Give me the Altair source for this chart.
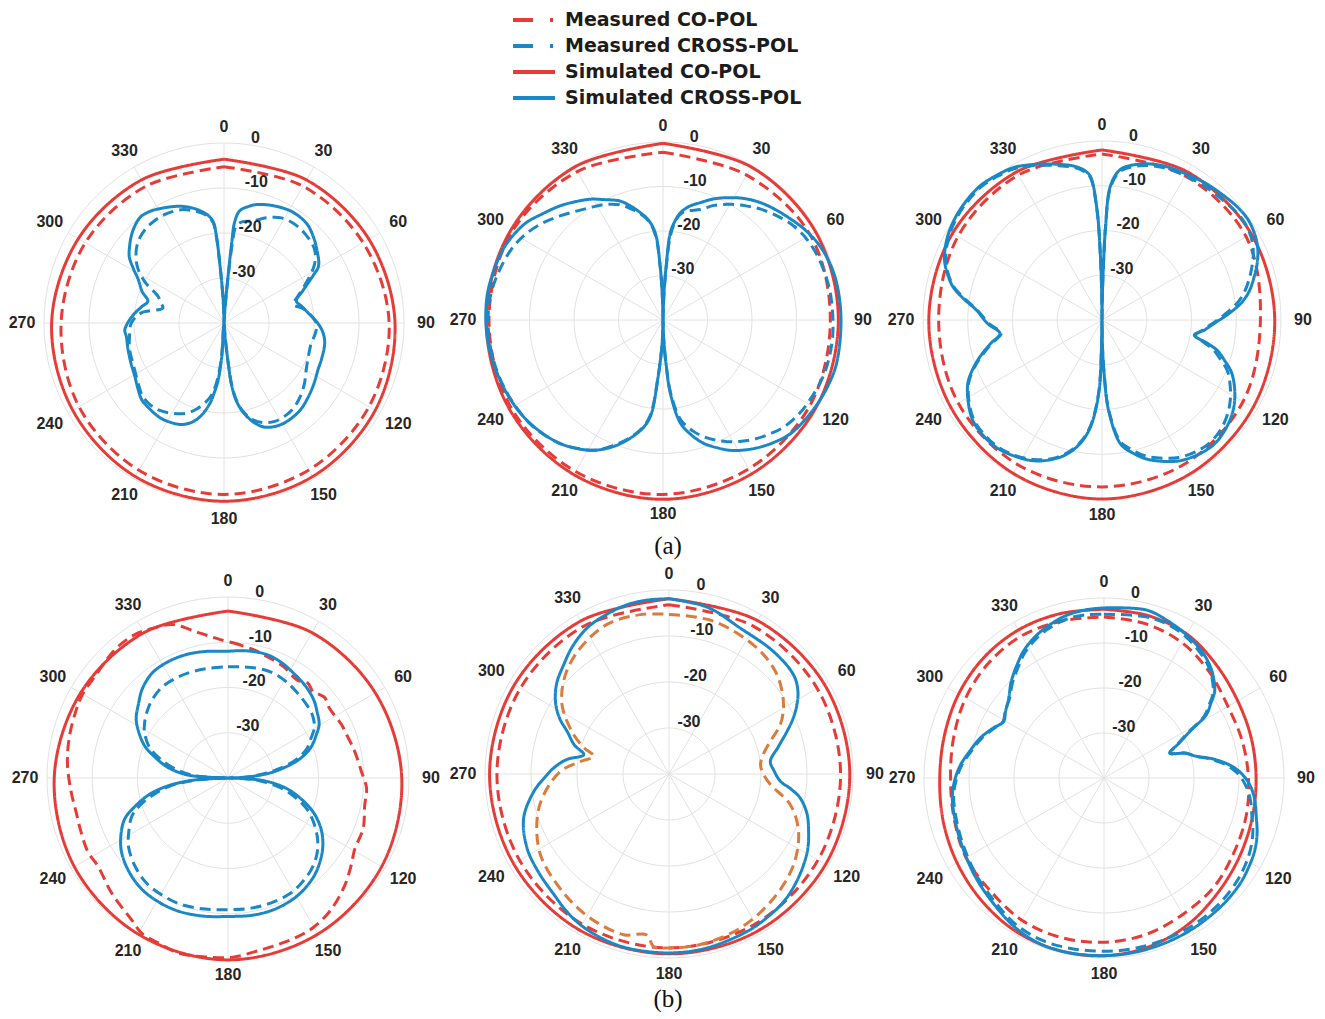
import altair as alt
import pandas as pd

# ---------------- labels / ticks ----------------
SERIES = ["Measured CO-POL", "Measured CROSS-POL", "Simulated CO-POL", "Simulated CROSS-POL"]
ANG30 = list(range(0, 360, 30))
ANG15 = list(range(0, 360, 15))
ANGLE_TICKS = list(range(0, 360, 30))
RADIAL_TICKS = [0, -10, -20, -30]
RING_LEVELS = [-30, -20, -10, 0]
CAPTIONS = ["(a)", "(b)"]

# ---------------- panel 1 ----------------
P1_CO_SIM = [-3.6, -3.3, -2.8, -2.0, -1.2, -0.6, -0.4, -0.6, -1.2, -1.7, -2.6, -3.3]
P1_CO_MEAS = [-5.3, -4.9, -4.3, -3.3, -2.8, -2.3, -1.9, -2.2, -2.8, -3.8, -4.4, -5.0]
P1_X_SIM = [(0, -40), (4, -36), (5, -29), (5.5, -22), (6, -17.5), (8, -14.8), (12, -13.5), (16, -12.6),
            (24, -11.6), (32, -11.0), (40, -11.3), (46, -12.4), (53, -14.0), (59, -15.5), (62, -17.6),
            (68, -21.2), (73, -23.2), (78, -22.3), (83, -21.2), (90, -19.2), (95, -18.0), (101, -17.2),
            (110, -16.9), (116, -16.7), (124, -15.9), (132, -15.0), (140, -14.2), (150, -14.1), (158, -15.0),
            (163, -16.8), (168, -19.8), (171, -22.5), (173, -26), (174, -31), (175.5, -37), (180, -40),
            (184, -32), (186, -27), (188, -24.3), (190, -21.8), (194, -18.7), (198, -16.8), (203, -15.5),
            (210, -14.8), (215, -14.6), (222, -14.8), (227, -15.0), (233, -16.0), (239, -16.9), (247, -17.5),
            (255, -17.9), (262, -18.1), (266, -17.9), (271, -18.8), (276, -20.0), (281, -21.3), (286, -22.4),
            (291, -20.5), (297, -18.6), (301, -16.5), (305, -14.3), (309, -13.0), (313, -11.8), (317, -10.8),
            (322, -10.0), (327, -10.3), (331, -10.9), (336, -11.7), (340, -12.4), (345, -13.6), (348, -14.5),
            (352, -16.0), (354, -17.5), (355, -20.5), (356, -27), (358, -35)]
P1_X_MEAS = [(0, -40), (4, -36), (5, -30), (6, -22), (7, -18.5), (10, -17.2), (16, -16.4), (22, -14.8),
             (28.6, -13.4), (35, -13.0), (42, -13.2), (51, -14.1), (57, -16.0), (64, -19.7), (70, -22.5),
             (75, -24.0), (80, -22.0), (90, -19.5), (97, -19.6), (103, -20.1), (112, -19.8), (119.5, -19.0),
             (126.6, -17.7), (133, -16.6), (139.7, -15.7), (146, -15.3), (152.7, -15.4), (159, -16.3),
             (164, -17.8), (168, -20.0), (171, -22.8), (173, -26.5), (174, -31), (175.5, -37), (180, -40),
             (184, -33), (186, -28.5), (188, -25.5), (191, -23), (197, -20.2), (203, -18.2), (210.3, -16.8),
             (217, -15.8), (223.5, -15.5), (229, -15.8), (235, -16.7), (245, -17.8), (254, -18.2), (262, -18.8),
             (270, -19.4), (277, -21.5), (283.8, -26.0), (288, -25.2), (292, -24.2), (297, -20.5), (302, -17.5),
             (307, -15.5), (313, -13.8), (320, -12.8), (327, -12.5), (333, -12.6), (339.4, -13.1), (345, -14.2),
             (349, -15.2), (352, -16.3), (354, -17.8), (355, -21), (356, -27), (358, -35)]

# ---------------- panel 2 ----------------
P2_CO_SIM = [-0.3, -0.3, -0.4, -0.6, -0.4, -0.1, 0.3, 0.1, -0.1, -0.3, -0.3, -0.3]
P2_CO_MEAS = [-2.3, -2.4, -1.8, -2.4, -1.8, -1.4, -0.8, -0.7, -0.6, -0.9, -0.7, -1.5]
P2_X_SIM = [(0, -40), (2, -34), (3.5, -27), (4.8, -20.3), (7, -17.5), (9.2, -15.6), (13, -13.8), (17.7, -12.3),
            (23, -10.4), (28.9, -8.6), (34, -7.1), (39.8, -5.7), (46, -4.5), (51.8, -3.4), (57, -2.3),
            (63.4, -1.2), (70, -0.5), (78, -0.1), (90, 0.0), (104, 0.2), (112, -0.1), (118.3, -0.5), (125, -1.0),
            (131.6, -1.6), (137, -2.7), (142.4, -4.0), (147.5, -5.4), (152.6, -7.0), (157, -8.8), (161.7, -10.8),
            (166, -13.3), (170.4, -16.5), (174.3, -23.5), (176, -30), (178, -36), (180, -40), (182, -35),
            (185, -27), (187.5, -18.1), (191, -15), (196.7, -11.8), (202, -9.2), (208.1, -6.8), (214, -5.2),
            (219.9, -3.85), (227, -2.8), (233.8, -2.0), (240, -1.5), (247.4, -1.1), (257, -0.6), (266.9, -0.25),
            (277.7, -0.1), (286, -0.4), (293.8, -0.7), (300, -1.4), (305.5, -2.3), (311, -3.8), (317.9, -5.45),
            (323, -6.8), (328.9, -8.3), (334, -9.9), (340.2, -11.6), (344, -13.3), (348, -15.3), (352, -17.5),
            (355, -20.5), (357, -28), (358.5, -35)]
P2_X_MEAS = [(0, -40), (2, -35), (3.5, -28), (5, -21), (7, -17.8), (9.5, -15.8), (13, -14.8), (18.7, -13.8),
             (24, -11.8), (30.3, -9.9), (36, -8.3), (41.4, -6.8), (48, -5.2), (54.4, -3.8), (61, -2.9),
             (67.5, -2.4), (75, -2.1), (82, -1.9), (95.5, -1.7), (108.3, -1.8), (120, -2.5), (126, -3.0),
             (131.4, -3.7), (136, -4.7), (141.5, -6.0), (147, -7.5), (152.2, -9.1), (156.5, -10.6), (160.7, -12.2),
             (165, -14.2), (170, -17.3), (174, -23.5), (176, -30), (178, -36), (180, -40), (182, -35), (185, -27),
             (187.5, -18.5), (191, -15.2), (196.7, -12.0), (202, -9.5), (207, -7.2), (213, -5.5), (218.6, -4.1),
             (225, -3.0), (232, -2.1), (240, -1.6), (247, -1.2), (255, -0.9), (262.4, -0.7), (270, -0.7),
             (277, -0.8), (285, -1.4), (295, -2.4), (302, -3.6), (309, -5.3), (315.3, -7.1), (321, -8.6),
             (327, -9.9), (333, -10.9), (340, -12.5), (344, -14), (348, -15.6), (352, -17.7), (355, -21),
             (357, -28), (358.5, -35)]

# ---------------- panel 3 ----------------
P3_CO_SIM = [-2.0, -1.8, -1.5, -1.4, -1.0, -0.4, 0.0, -0.4, -1.0, -1.3, -1.4, -1.8]
P3_CO_MEAS = [-2.9, -2.8, -2.8, -4.6, -3.6, -2.9, -2.7, -2.6, -2.9, -3.5, -2.8, -2.6]
P3_X_SIM = [(0, -40), (1, -33), (1.6, -26.5), (2.2, -19), (3.6, -10), (7, -6.1), (13.9, -4.1), (21.9, -2.9),
            (31.6, -2.2), (38, -1.6), (44.6, -1.1), (50, -0.6), (55.4, -0.4), (61, -0.9), (65.7, -1.8),
            (70, -3.1), (74, -4.6), (79, -6.5), (83.1, -8.7), (87.5, -11.9), (91.7, -14.9), (95.6, -17.0),
            (99.3, -19.1), (102.5, -15.8), (105, -13.2), (108.2, -11.2), (112, -8.8), (116.9, -6.8), (122, -5.1),
            (127, -3.9), (132, -3.1), (137.8, -2.6), (144, -3.0), (150.8, -4.0), (156, -5.4), (162, -7.3),
            (167, -9.5), (171.5, -12.0), (175.8, -19.7), (177.6, -27.3), (179, -34), (180, -40), (181, -34),
            (182.6, -23.5), (186.2, -15.9), (190, -12), (194.7, -9.0), (200, -6.8), (206, -5.0), (213, -3.8),
            (219.7, -3.0), (226, -3.0), (232, -3.4), (238, -4.8), (244.6, -6.8), (249, -9.0), (253.2, -11.5),
            (258, -14.5), (262.5, -17.0), (268, -14.5), (274.6, -11.8), (279, -8.5), (282.7, -5.8), (287, -3.8),
            (291, -2.3), (297, -1.0), (303.1, -0.2), (310, 0.3), (317.6, 0.5), (324, 0.0), (329.8, -0.6),
            (334, -1.5), (338.3, -2.5), (344, -3.8), (349.5, -5.0), (353, -6.2), (355.3, -7.7), (357.4, -15.3),
            (358.5, -25), (359.3, -33)]
P3_X_MEAS = [(0, -40), (1, -33), (1.6, -26.5), (2.2, -19), (3.6, -10.5), (7, -6.5), (13.9, -4.5), (21.9, -3.3),
             (31.6, -2.7), (38, -2.3), (44.6, -2.0), (50, -1.6), (55.4, -1.4), (61, -1.9), (65.7, -2.9),
             (70, -4.3), (74, -5.7), (79, -7.6), (83.1, -9.7), (87.5, -12.6), (91.7, -15.2), (95.6, -17.4),
             (99.3, -18.8), (102.5, -16.6), (105, -14.2), (108.2, -12.2), (112, -9.8), (116.9, -7.9), (122, -6.2),
             (127, -4.9), (132, -4.0), (137.8, -3.5), (144, -3.8), (150.8, -4.8), (156, -6.2), (162, -8.0),
             (167, -10.2), (171.5, -12.6), (175.8, -20), (177.6, -27.5), (179, -34), (180, -40), (181, -34),
             (182.6, -23.8), (186.2, -16.2), (190, -12.3), (194.7, -9.3), (200, -7.0), (206, -5.3), (213, -4.0),
             (219.7, -3.3), (226, -3.3), (232, -3.7), (238, -5.0), (244.6, -7.0), (249, -9.2), (253.2, -11.8),
             (258, -14.8), (262.5, -17.3), (268, -14.8), (274.6, -12.0), (279, -8.8), (282.7, -6.0), (287, -4.0),
             (291, -2.6), (297, -1.3), (303.1, -0.5), (310, 0.0), (317.6, 0.2), (324, -0.3), (329.8, -0.9),
             (334, -1.8), (338.3, -2.8), (344, -4.1), (349.5, -5.3), (353, -6.5), (355.3, -8.0), (357.4, -15.5),
             (358.5, -25), (359.3, -33)]

# ---------------- panel 4 ----------------
P4_CO_SIM = [-3.1, -2.9, -2.4, -1.6, -0.8, -0.2, 0.2, -0.2, -0.8, -1.6, -2.4, -2.9]
P4_CO_MEAS = [(2.1, -10.1), (11.2, -11.1), (17.7, -11.8), (26.6, -12.5), (35.3, -13.5), (40, -12.6),
              (44.4, -13.2), (50, -12.2), (55.5, -12.8), (64.5, -12.3), (71.3, -12.0), (78, -11.4),
              (87.1, -10.5), (94.2, -9.3), (101.2, -9.2), (110.6, -8.1), (119.2, -7.9), (125.5, -6.6),
              (132.8, -4.9), (142, -3.05), (149.9, -2.0), (156.4, -1.7), (162.4, -1.6), (169.4, -1.3),
              (178.4, -0.4), (187, -0.15), (195.6, 0.2), (202.7, -0.4), (209, -0.75), (214.2, -2.1),
              (225.4, -3.85), (236, -5.3), (242, -5.0), (249.8, -5.4), (257.5, -5.6), (265, -5.2), (274.8, -4.4),
              (284.3, -3.8), (294, -3.25), (300.2, -2.9), (307.2, -3.0), (318.6, -2.2), (327, -2.2),
              (334.2, -3.1), (340, -3.9), (348.8, -7.3), (356.5, -9.3)]
P4_X_SIM = [(0, -12.0), (8, -11.6), (17.5, -11.4), (25, -11.9), (32.2, -12.7), (40, -13.4), (47.9, -14.4),
            (53, -15.4), (59.4, -16.6), (64, -18.3), (69.8, -20.5), (75, -23.5), (79.7, -27.5), (83, -30.5),
            (86, -34.4), (88, -37), (90, -40), (92, -36), (95, -31.4), (100, -27), (105.6, -23.4), (112, -19.6),
            (118.6, -16.6), (125, -14.4), (131.1, -12.8), (138, -11.3), (145.7, -10.2), (152, -9.6),
            (160.9, -9.2), (170, -9.2), (180, -9.4), (190, -9.0), (200.2, -8.6), (209, -8.6), (217.7, -8.9),
            (226, -9.8), (235, -11.3), (242, -13.2), (248.5, -15.5), (253, -18.5), (257.9, -22), (262, -26),
            (265.4, -30.6), (267.5, -35), (270, -40), (272.5, -35), (274.6, -30.7), (280, -26.5),
            (285.6, -23.4), (291, -20.3), (297.8, -17.6), (303, -15.8), (309.7, -14.3), (316, -12.7),
            (324, -11.4), (332, -11.1), (341.1, -11.2), (350, -11.6)]
P4_X_MEAS = [(0, -15.4), (8, -15.2), (17.5, -14.8), (25, -14.8), (32.2, -15.2), (40, -15.8), (47.9, -16.3),
             (53, -16.7), (59.4, -17.8), (64, -19.5), (69.8, -21.5), (75, -24.5), (79.7, -28.5), (83, -31.5),
             (86, -35), (88, -37.5), (90, -40), (92, -37), (95, -33), (100, -28.5), (105.6, -24.8), (112, -21),
             (118.6, -18.2), (125, -15.8), (131.1, -14.0), (138, -12.6), (145.7, -11.6), (152, -11.0),
             (160.9, -10.8), (170, -10.8), (180, -10.9), (190, -10.6), (200.2, -10.2), (209, -10.3),
             (217.7, -10.6), (226, -11.6), (235, -13.2), (242, -15.2), (248.5, -17.2), (253, -19.8),
             (257.9, -23.5), (262, -27), (265.4, -31.5), (267.5, -35.5), (270, -40), (272.5, -36), (274.6, -32),
             (280, -28), (285.6, -24.5), (291, -21.5), (297.8, -19.2), (303, -18.0), (309.7, -16.8), (316, -15.9),
             (324, -15.2), (332, -15.1), (341.1, -15.2), (350, -15.4)]

# ---------------- panel 5 ----------------
P5_CO_SIM = [-1.9, -1.5, -1.0, -0.7, -0.7, -0.8, -0.9, -0.9, -1.0, -1.0, -1.2, -1.6]
P5_CO_MEAS = [-3.2, -3.0, -2.8, -2.7, -2.6, -2.4, -2.2, -2.3, -2.5, -2.6, -2.7, -2.9]
P5_X_SIM = [(0, -1.9), (13, -2.8), (26, -4.7), (40.5, -5.0), (51.5, -5.4), (57, -6.6), (61.6, -8.4), (66, -10.5),
            (70.1, -12.7), (76, -15.5), (82.9, -17.8), (88, -17.2), (93.8, -15.7), (97, -13.3), (100.4, -11.0),
            (106, -8.8), (112.3, -7.2), (118, -5.8), (124, -4.7), (131, -3.6), (138, -2.7), (146, -2.2),
            (153.6, -1.8), (167.7, -1.3), (180, -1.1), (193.6, -1.1), (202, -1.4), (210.5, -2.0), (217, -2.8),
            (223, -3.7), (233, -4.5), (242.5, -5.2), (253.2, -7.0), (262.7, -10.4), (268, -12.8), (273, -14.9),
            (278, -17.5), (282.8, -21.0), (287, -18.5), (292.7, -16.0), (297, -13.3), (302.6, -10.7),
            (309, -8.6), (316.1, -7.0), (323, -5.2), (330.7, -3.6), (338, -2.8), (346, -2.1), (353, -1.9)]
P5_X_MEAS = [(0, -5.3), (16.3, -5.4), (34.9, -6.6), (47.4, -8.1), (58.8, -10.9), (66, -13.5), (72, -16.8),
             (78, -19.0), (84.2, -20.0), (90, -19.5), (96, -17.8), (104.2, -12.8), (113.9, -9.2), (126, -6.5),
             (139.8, -4.7), (155.1, -3.1), (169.6, -2.3), (180, -2.2), (185, -2.3), (188, -4.7), (195.8, -3.7),
             (208.6, -4.3), (222, -5.5), (237.9, -7.0), (251.6, -9.8), (260.6, -12.4), (271.4, -16.4),
             (278, -20.5), (283.2, -23.2), (287, -20.8), (292.4, -17.6), (302.9, -12.3), (313.8, -8.8),
             (324.9, -6.5), (337.5, -4.8), (349.8, -4.8)]

# ---------------- panel 6 ----------------
P6_CO_SIM = [-2.5, -2.6, -3.1, -4.6, -5.7, -6.1, -6.2, -5.9, -5.2, -4.1, -2.5, -1.2,
             -0.5, -0.4, -0.7, -1.5, -2.3, -3.0, -3.5, -3.3, -2.7, -2.2, -2.0, -2.2]
P6_CO_MEAS = [-4.2, -4.5, -5.3, -6.8, -8.2, -8.2, -7.9, -7.3, -6.7, -5.6, -5.0, -4.0,
              -3.5, -3.3, -3.5, -4.4, -4.6, -5.5, -5.9, -5.4, -4.5, -3.8, -3.5, -3.9]
P6_X_SIM = [(0, -2.2), (14.2, -1.5), (22, -2.3), (30, -3.3), (37, -4.3), (43, -5.6), (47.5, -7.0), (52, -8.8),
            (55, -11.0), (58.3, -13.3), (61.5, -18.3), (65, -21.5), (69.3, -24.4), (73, -21.2), (76.8, -18.9),
            (80, -15.5), (84, -12.0), (88, -9.5), (92.6, -7.6), (98, -6.2), (104.7, -5.0), (110, -3.8),
            (115.9, -2.8), (122, -2.2), (128, -1.7), (137, -1.4), (146.8, -1.2), (155, -1.0), (163.8, -0.8),
            (173, -0.6), (182.4, -0.5), (192, -0.4), (201, -0.5), (211, -1.4), (221.1, -2.8), (232, -3.9),
            (242.5, -4.9), (252, -5.5), (262.5, -6.0), (269, -6.8), (275.3, -8.0), (281, -9.5), (287.9, -11.1),
            (294, -12.9), (299.4, -14.4), (304, -13.6), (309.9, -12.4), (316, -10.3), (322.4, -8.3), (328, -6.5),
            (334.8, -4.9), (341, -3.8), (347.1, -2.9), (354, -2.4)]
P6_X_MEAS = [(0, -3.6), (14.2, -3.0), (22, -3.0), (30, -3.7), (37, -4.8), (43, -6.0), (47.5, -7.4), (52, -9.2),
             (55, -11.4), (58.3, -13.8), (61.5, -18.6), (65, -21.8), (69.3, -24.2), (73, -21.0), (76.8, -18.9),
             (80, -15.9), (84, -12.6), (88, -10.3), (92.6, -8.6), (98, -7.2), (104.7, -6.0), (110, -4.8),
             (115.9, -3.8), (122, -3.1), (128, -2.6), (137, -2.1), (146.8, -1.8), (155, -1.7), (163.8, -1.6),
             (173, -1.5), (182.4, -1.5), (192, -1.4), (201, -1.4), (211, -2.0), (221.1, -3.3), (232, -4.3),
             (242.5, -5.2), (252, -5.8), (262.5, -6.3), (269, -7.1), (275.3, -8.3), (281, -9.8), (287.9, -11.4),
             (294, -13.1), (299.4, -14.3), (304, -13.5), (309.9, -12.6), (316, -10.7), (322.4, -8.8), (328, -7.0),
             (334.8, -5.4), (341, -4.4), (347.1, -3.7), (354, -3.5)]

# ---------------- styling / layout constants ----------------
RED = "#e63b36"
BLUE = "#1a87c6"
ORANGE = "#dc7b3c"
GRID = "#e2e2e2"
TXT = "#262626"
DASH = [11, 6]
LEGEND_DASH = [20, 17, 3, 60]
PANEL_CX = [224, 663, 1102, 228, 669, 1104]
PANEL_CY = [323, 320, 320, 778, 774, 778]
PANEL_R = [180, 178, 179, 181, 184, 180]
CAPTION_XY = [(668, 546), (668, 999)]
LEG_X0, LEG_X1, LEG_TX = 513, 555, 565
LEG_Y0, LEG_DY = 20, 26
W, H = 1309, 1003

# ---------------- assemble tables ----------------
def unzip(pairs):
    return [p[0] for p in pairs], [p[1] for p in pairs]

panels = [
    ((ANG30, P1_CO_SIM), (ANG30, P1_CO_MEAS), unzip(P1_X_SIM), unzip(P1_X_MEAS)),
    ((ANG30, P2_CO_SIM), (ANG30, P2_CO_MEAS), unzip(P2_X_SIM), unzip(P2_X_MEAS)),
    ((ANG30, P3_CO_SIM), (ANG30, P3_CO_MEAS), unzip(P3_X_SIM), unzip(P3_X_MEAS)),
    ((ANG30, P4_CO_SIM), unzip(P4_CO_MEAS), unzip(P4_X_SIM), unzip(P4_X_MEAS)),
    ((ANG30, P5_CO_SIM), (ANG30, P5_CO_MEAS), unzip(P5_X_SIM), unzip(P5_X_MEAS)),
    ((ANG15, P6_CO_SIM), (ANG15, P6_CO_MEAS), unzip(P6_X_SIM), unzip(P6_X_MEAS)),
]

rows = []
for p, (co_sim, co_meas, x_sim, x_meas) in enumerate(panels):
    for series, (angs, vals) in [(SERIES[2], co_sim), (SERIES[0], co_meas),
                                  (SERIES[3], x_sim), (SERIES[1], x_meas)]:
        variant = "orange" if (p == 4 and series == SERIES[1]) else "std"
        pts = list(zip(angs, vals)) + [(angs[0] + 360, vals[0])]
        for a, v in pts:
            rows.append(dict(panel=p, series=series, angle=a, db=v, key=f"{p}|{series}", variant=variant))
curves_df = pd.DataFrame(rows)

ring_rows = []
for p in range(6):
    for lvl in RING_LEVELS:
        for a in range(0, 361, 3):
            ring_rows.append(dict(panel=p, db=lvl, angle=a, key=f"{p}|{lvl}"))
rings_df = pd.DataFrame(ring_rows)

spokes_df = pd.DataFrame([dict(panel=p, angle=a) for p in range(6) for a in ANGLE_TICKS])
alabels_df = pd.DataFrame([dict(panel=p, angle=a, label=str(a)) for p in range(6) for a in ANGLE_TICKS])
rlabels_df = pd.DataFrame([dict(panel=p, db=t, label=str(t)) for p in range(6) for t in RADIAL_TICKS])
legend_df = pd.DataFrame([dict(series=s, i=i, measured=s.startswith("Measured")) for i, s in enumerate(SERIES)])

# ---------------- geometry helpers ----------------
def arr(v):
    return "[" + ",".join(str(x) for x in v) + "][datum.panel]"

def polar(chart, r_expr, angle_expr="datum.angle"):
    return chart.transform_calculate(
        cx=arr(PANEL_CX), cy=arr(PANEL_CY), R=arr(PANEL_R)
    ).transform_calculate(
        th=f"({angle_expr})*PI/180"
    ).transform_calculate(
        rr=r_expr
    ).transform_calculate(
        x="datum.cx + datum.rr*sin(datum.th)",
        y="datum.cy - datum.rr*cos(datum.th)",
    )

XS = alt.Scale(domain=[8, 8 + W], nice=False, zero=False)
YS = alt.Scale(domain=[8, 8 + H], nice=False, zero=False, reverse=True)
X = alt.X("x:Q", scale=XS, axis=None)
Y = alt.Y("y:Q", scale=YS, axis=None)
R_DB = "datum.R*max(0, datum.db + 40)/40"
COLOR = alt.Color("series:N", scale=alt.Scale(domain=SERIES, range=[RED, BLUE, RED, BLUE]), legend=None)

rings = polar(alt.Chart(rings_df), R_DB).mark_line(stroke=GRID, strokeWidth=1).encode(
    x=X, y=Y, order="angle:Q", detail="key:N")

spokes = alt.Chart(spokes_df).transform_calculate(
    cx=arr(PANEL_CX), cy=arr(PANEL_CY), R=arr(PANEL_R)
).transform_calculate(
    th="datum.angle*PI/180"
).transform_calculate(
    x="datum.cx", y="datum.cy",
    x2="datum.cx + datum.R*sin(datum.th)", y2="datum.cy - datum.R*cos(datum.th)"
).mark_rule(stroke=GRID, strokeWidth=1).encode(x=X, y=Y, x2="x2:Q", y2="y2:Q")

alabels = polar(alt.Chart(alabels_df), "datum.R + 16 + 6*abs(sin(datum.th))").mark_text(
    font="Liberation Sans", fontSize=16, fontWeight="bold", color=TXT, align="center", baseline="middle"
).encode(x=X, y=Y, text="label:N")

rlabels = polar(alt.Chart(rlabels_df), "datum.R*(datum.db + 40)/40 + 7", angle_expr="8").mark_text(
    font="Liberation Sans", fontSize=16, fontWeight="bold", color=TXT, align="left", baseline="middle", dx=1
).encode(x=X, y=Y, text="label:N")

curves = polar(alt.Chart(curves_df).transform_filter("datum.variant == 'std'"), R_DB).mark_line(
    strokeWidth=3, interpolate="catmull-rom"
).encode(
    x=X, y=Y, order="angle:Q", detail="key:N", color=COLOR,
    strokeDash=alt.StrokeDash("series:N", scale=alt.Scale(domain=SERIES, range=[DASH, DASH, [1, 0], [1, 0]]),
                              legend=None),
)

orange = polar(alt.Chart(curves_df).transform_filter("datum.variant == 'orange'"), R_DB).mark_line(
    strokeWidth=3, interpolate="catmull-rom", stroke=ORANGE, strokeDash=DASH
).encode(x=X, y=Y, order="angle:Q", detail="key:N")

# ---------------- legend (built from the series list) ----------------
leg_base = alt.Chart(legend_df).transform_calculate(y=f"{LEG_Y0} + datum.i*{LEG_DY}")
leg_meas = leg_base.transform_filter("datum.measured").mark_rule(
    strokeWidth=4, strokeDash=LEGEND_DASH
).encode(x=alt.datum(LEG_X0, scale=XS), x2=alt.datum(LEG_X1), y=Y, color=COLOR)
leg_sim = leg_base.transform_filter("!datum.measured").mark_rule(strokeWidth=4).encode(
    x=alt.datum(LEG_X0, scale=XS), x2=alt.datum(LEG_X1), y=Y, color=COLOR)
leg_text = leg_base.mark_text(
    font="DejaVu Sans", fontSize=19, fontWeight="bold", color="#1c1c1c", align="left", baseline="middle"
).encode(x=alt.datum(LEG_TX, scale=XS), y=Y, text="series:N")

cap_df = pd.DataFrame([dict(t=t, x=xy[0], y=xy[1]) for t, xy in zip(CAPTIONS, CAPTION_XY)])
captions = alt.Chart(cap_df).mark_text(
    font="Liberation Serif", fontSize=25, color="#111111", align="center", baseline="middle"
).encode(x=X, y=Y, text="t:N")

chart = alt.layer(rings, spokes, curves, orange, alabels, rlabels, captions,
                  leg_meas, leg_sim, leg_text).properties(
    width=W, height=H, padding=0, background="white"
).configure_view(stroke=None)

chart.save("out.html", embed_options={"renderer": "svg", "actions": False})
